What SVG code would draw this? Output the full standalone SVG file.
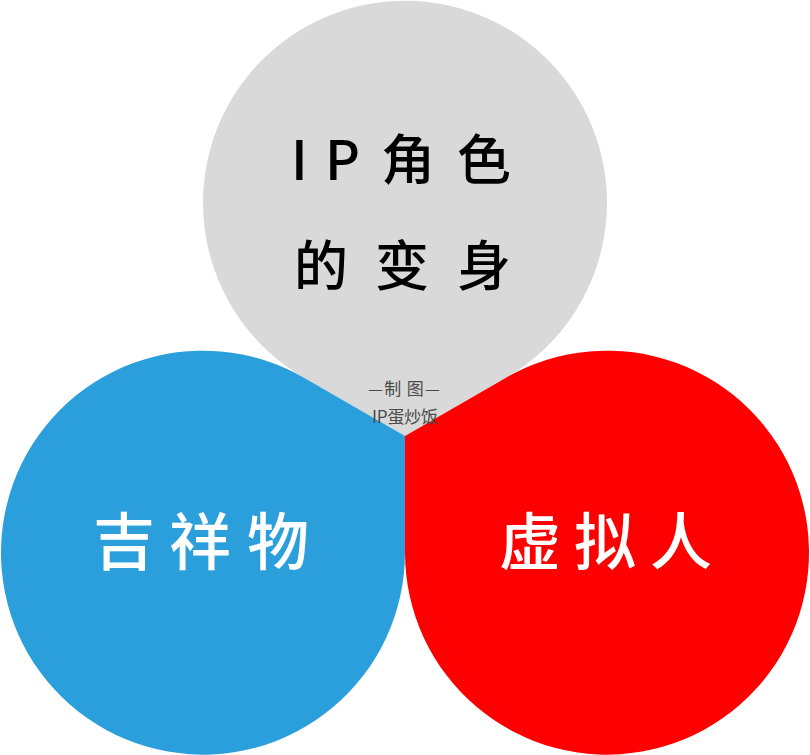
<svg xmlns="http://www.w3.org/2000/svg" width="810" height="755" viewBox="0 0 810 755">
<style>
.cjk{font-family:"Noto Sans CJK SC","Noto Sans",sans-serif}
.big{font-size:54px;fill:#000;font-weight:500}
.lbl{font-size:62px;fill:#fff;font-weight:500}
.note{font-size:17px;fill:#4a4a4a}
</style>
<rect width="810" height="755" fill="#fff"/>
<g id="top">
<path d="M405,436 L506,377.7 A202,202 0 1 0 304,377.7 Z" fill="#d9d9d9"/>
<text class="cjk big" y="180"><tspan x="291">I</tspan><tspan x="325">P</tspan><tspan x="381">角</tspan><tspan x="457">色</tspan></text>
<text class="cjk big" y="286"><tspan x="294">的</tspan><tspan x="375">变</tspan><tspan x="457">身</tspan></text>
</g>
<g id="left">
<path d="M405,436 L304,377.7 A202,202 0 1 0 405,552.6 Z" fill="#2b9fdb"/>
<text class="cjk lbl" y="565"><tspan x="93">吉</tspan><tspan x="169">祥</tspan><tspan x="247">物</tspan></text>
</g>
<g id="right">
<path d="M405,436 L405,552.6 A202,202 0 1 0 506,377.7 Z" fill="#ff0000"/>
<text class="cjk lbl" y="565"><tspan x="499">虚</tspan><tspan x="574">拟</tspan><tspan x="650">人</tspan></text>
</g>
<g id="credit">
<text class="cjk note" x="368" y="395" textLength="72" lengthAdjust="spacing">—制 图—</text>
<text class="cjk note" x="372" y="423" textLength="66" lengthAdjust="spacing">IP蛋炒饭</text>
</g>
<g id="connectors"/>
</svg>
